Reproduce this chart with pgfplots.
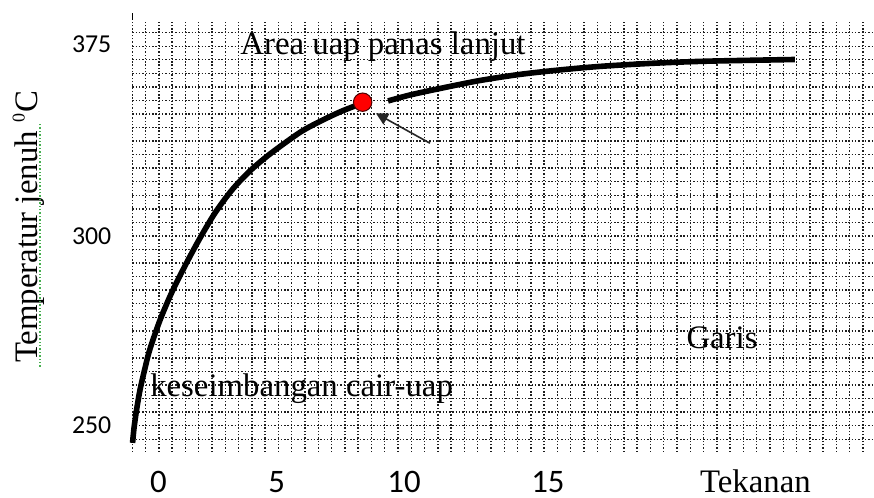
\documentclass[border=0pt]{standalone}
\usepackage{fontspec}
\setmainfont{Liberation Serif}
\newfontfamily\calibri{Carlito}
\usepackage{pgfplots}
\pgfplotsset{compat=1.18}
\usetikzlibrary{arrows.meta}
\definecolor{gridgray}{RGB}{30,30,30}
\definecolor{spellgreen}{RGB}{70,175,80}
\newcommand{\serifbig}{\fontsize{16.4}{19}\selectfont}
\begin{document}
\begin{tikzpicture}
\begin{axis}[
    % one unit = one square of the grid paper
    x=6.6425pt, y=6.7765pt,
    xmin=0, xmax=55.83,
    ymin=-0.94, ymax=30.81,
    axis line style={draw=none},
    tick style={draw=none},
    major tick length=0pt, minor tick length=0pt,
    grid=minor,
    minor grid style={gridgray, line width=0.7pt, dash pattern=on 0.7pt off 0.95pt},
    minor xtick={0,1,...,55},
    minor ytick={0,1,...,30},
    xtick={1.96,10.87,20.46,31.29},
    xticklabels={0,5,10,15},
    ytick={1.06,15.0,29.11},
    yticklabels={250,300,375},
    xticklabel style={font=\calibri\fontsize{16.4}{18}\selectfont, anchor=base, inner sep=0pt, yshift=-20.3pt},
    yticklabel style={font=\calibri\fontsize{12.9}{14}\selectfont, anchor=east, inner sep=0pt, xshift=-10.3pt},
    clip=false,
]
% saturation curve, left part
\addplot[black, line width=2.8pt, smooth] coordinates {
    (0.02,-0.27) (0.13,0.83) (0.32,2.16) (0.58,3.64) (0.96,5.26)
    (1.33,6.66) (2.09,8.80) (2.99,10.87) (4.04,12.93) (5.10,14.85)
    (6.23,16.70) (7.50,18.39) (8.86,19.80) (10.37,21.05) (12.62,22.64)
    (14.13,23.45) (15.63,24.15) (16.76,24.59)
};
% saturation curve, right part
\addplot[black, line width=2.8pt, smooth] coordinates {
    (19.25,24.96) (20.90,25.40) (23.16,25.88) (26.17,26.47) (29.18,26.92)
    (32.19,27.25) (35.21,27.51) (38.97,27.73) (42.73,27.88) (46.50,27.96)
    (49.88,28.02)
};
% critical point
\addplot[only marks, mark=*, mark size=4.6pt,
    mark options={fill=red, draw=black!70!red, line width=0.5pt}]
    coordinates {(17.34,24.87)};

\draw[black!85, line width=0.8pt, -{Triangle[length=6pt,width=6pt]}]
    (axis cs:22.41,21.84) -- (axis cs:18.34,24.05);
\draw[black, line width=0.7pt] (axis cs:0,30.94) -- (axis cs:0,31.48);

\node[font=\serifbig, anchor=base] at (axis cs:18.87,28.36) {Area uap panas lanjut};
\node[font=\serifbig, anchor=base] at (axis cs:44.39,6.71) {Garis};
\node[font=\serifbig, anchor=base] at (axis cs:12.74,3.14) {keseimbangan cair-uap};
\node[font=\serifbig, anchor=base] at (axis cs:46.90,-3.93) {Tekanan};
\node[font=\serifbig, anchor=base, rotate=90] at (axis cs:-7.17,15.66)
    {Temperatur jenuh \textsuperscript{\fontsize{9}{10}\selectfont 0}C};
\draw[spellgreen, line width=0.7pt, dash pattern=on 0.7pt off 1pt]
    (axis cs:-6.95,5.35) -- (axis cs:-6.95,23.41);

\coordinate (bbl) at (axis cs:-9.959,-4.331);
\coordinate (btr) at (axis cs:55.83,32.41);
\end{axis}
\pgfresetboundingbox
\useasboundingbox (bbl) rectangle (btr);
\end{tikzpicture}
\end{document}
